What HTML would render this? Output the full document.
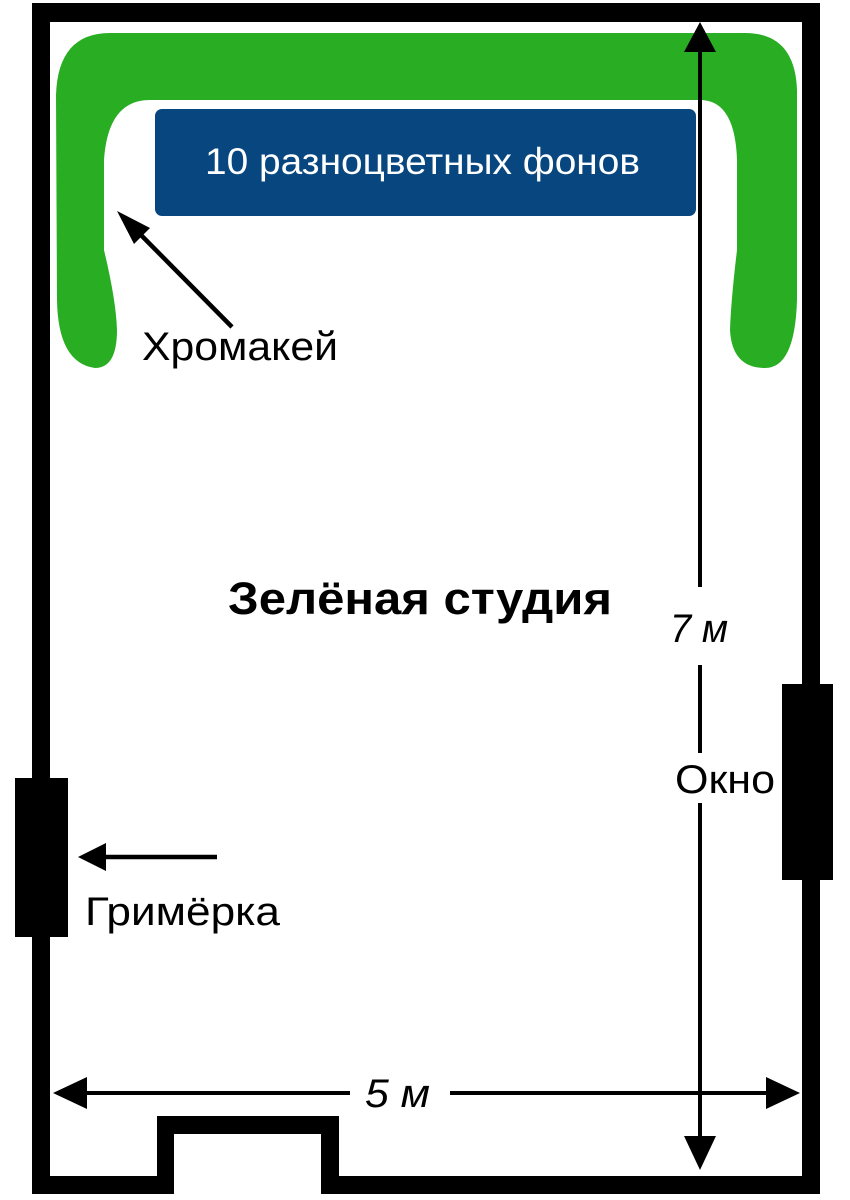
<!DOCTYPE html>
<html><head><meta charset="utf-8"><style>
html,body{margin:0;padding:0;background:#fff}
svg{display:block}
text{font-family:"Liberation Sans",sans-serif}
</style></head><body>
<svg width="850" height="1200" viewBox="0 0 850 1200" xmlns="http://www.w3.org/2000/svg">
<rect x="32" y="3" width="788" height="19" fill="#000"/>
<rect x="32" y="3" width="18" height="1191" fill="#000"/>
<rect x="802" y="3" width="18" height="1191" fill="#000"/>
<rect x="32" y="1176" width="142" height="18" fill="#000"/>
<rect x="321" y="1176" width="499" height="18" fill="#000"/>
<rect x="157" y="1116" width="182" height="18" fill="#000"/>
<rect x="157" y="1116" width="17" height="78" fill="#000"/>
<rect x="321" y="1116" width="18" height="78" fill="#000"/>
<rect x="782" y="684" width="51" height="196" fill="#000"/>
<rect x="15" y="778" width="53" height="159" fill="#000"/>
<path d="M110,33 L745,33 Q795,33 797,90 L797,300 Q795,368 765,368 Q732,368 730,330 Q731,300 737,250 L737,160 Q735,100 700,100 L150,100 Q108,100 104,160 L104,250 Q116,300 117,330 Q117,368 95,368 Q58,363 57,300 L56,95 Q58,33 110,33 Z" fill="#29ad22"/>
<rect x="155" y="109" width="541" height="107" rx="7" fill="#08467f"/>
<text x="205" y="174" font-size="37" fill="#fff" textLength="435" lengthAdjust="spacingAndGlyphs">10 разноцветных фонов</text>
<line x1="232" y1="327" x2="138" y2="232" stroke="#000" stroke-width="4.5"/>
<polygon points="117,211 150,228 134,244" fill="#000"/>
<text x="142" y="360" font-size="40" fill="#000" textLength="196" lengthAdjust="spacingAndGlyphs">Хромакей</text>
<text x="228" y="614" font-size="45" font-weight="bold" fill="#000" textLength="384" lengthAdjust="spacingAndGlyphs">Зелёная студия</text>
<line x1="700" y1="50" x2="700" y2="587" stroke="#000" stroke-width="4"/>
<line x1="700" y1="665" x2="700" y2="753" stroke="#000" stroke-width="4"/>
<line x1="700" y1="803" x2="700" y2="1140" stroke="#000" stroke-width="4"/>
<polygon points="700,22 684,52 716,52" fill="#000"/>
<polygon points="700,1170 684,1136 716,1136" fill="#000"/>
<text x="670" y="642" font-size="40" font-style="italic" fill="#000" textLength="58" lengthAdjust="spacingAndGlyphs">7 м</text>
<text x="675" y="793" font-size="40" fill="#000" textLength="100" lengthAdjust="spacingAndGlyphs">Окно</text>
<line x1="80" y1="1093" x2="350" y2="1093" stroke="#000" stroke-width="4"/>
<line x1="450" y1="1093" x2="770" y2="1093" stroke="#000" stroke-width="4"/>
<polygon points="53,1093 87,1077 87,1109" fill="#000"/>
<polygon points="800,1093 766,1077 766,1109" fill="#000"/>
<text x="365" y="1107" font-size="40" font-style="italic" fill="#000" textLength="65" lengthAdjust="spacingAndGlyphs">5 м</text>
<line x1="217" y1="857" x2="100" y2="857" stroke="#000" stroke-width="4.5"/>
<polygon points="78,857 106,843 106,871" fill="#000"/>
<text x="85" y="925" font-size="40" fill="#000" textLength="195" lengthAdjust="spacingAndGlyphs">Гримёрка</text>
</svg>
</body></html>
